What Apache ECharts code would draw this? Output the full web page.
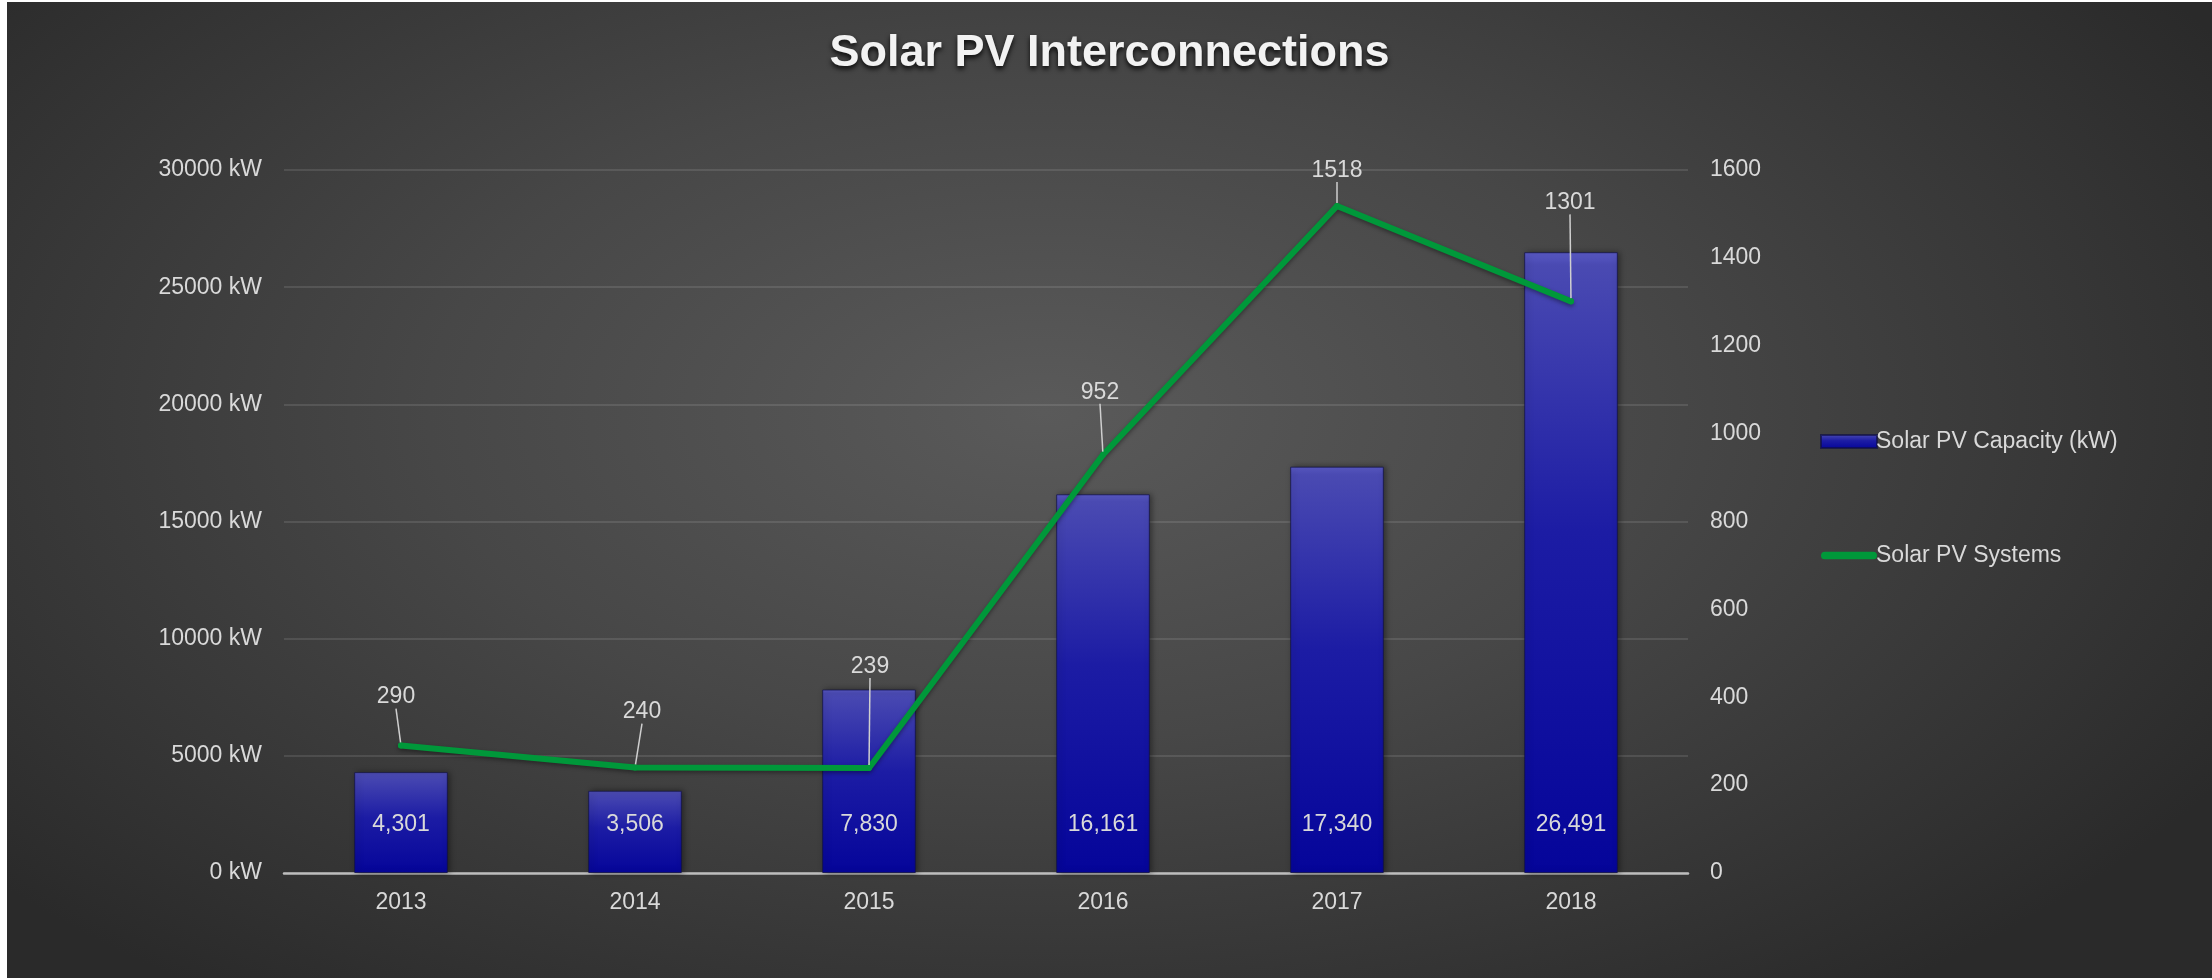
<!DOCTYPE html>
<html>
<head>
<meta charset="utf-8">
<script src="https://cdn.jsdelivr.net/npm/echarts@6/dist/echarts.min.js"></script>
<style>
  html, body { margin: 0; padding: 0; background: #ffffff; }
  #chart {
    position: absolute; left: 7px; top: 2px; width: 2205px; height: 976px;
    background: radial-gradient(ellipse 62% 75% at 47% 42%, #5a5a5a 0%, #474747 45%, #2a2a2a 100%);
  }
</style>
</head>
<body>
<div id="chart"></div>
<script>
// chart data
const years = ['2013', '2014', '2015', '2016', '2017', '2018'];
const capacityKW = [4301, 3506, 7830, 16161, 17340, 26491];
const systems = [290, 240, 239, 952, 1518, 1301];

// where the line labels sit relative to their points (leader lines)
const labelShift = [[-5, -34], [7, -41], [1, -87], [-3, -48], [0, -21], [-1, -84]];

var chartDom = document.getElementById('chart');
var myChart = echarts.init(chartDom);
var option;

const textColor = '#d9d9d9';
const font = 'Liberation Sans, Arial, sans-serif';

option = {
  backgroundColor: 'transparent',
  title: {
    text: 'Solar PV Interconnections',
    left: 'center',
    top: 24,
    textStyle: {
      fontFamily: font,
      fontSize: 45,
      fontWeight: 'bold',
      color: '#f2f2f2',
      textShadowColor: 'rgba(0,0,0,0.85)',
      textShadowBlur: 5,
      textShadowOffsetY: 3
    }
  },
  legend: {
    orient: 'vertical',
    left: 1808,
    top: 423,
    itemGap: 91,
    itemWidth: 56,
    itemHeight: 13,
    textStyle: {
      fontFamily: font,
      fontSize: 23,
      color: textColor,
      padding: [0, 0, 0, -6]
    },
    data: [
      { name: 'Solar PV Capacity (kW)', icon: 'rect' },
      {
        name: 'Solar PV Systems',
        // thick rounded line; the bare moves keep the full icon box
        icon: 'path://M0,0 M0,13 M4,2.5 L54,2.5 A4,4 0 0 1 54,10.5 L4,10.5 A4,4 0 0 1 4,2.5 Z M58,0'
      }
    ]
  },
  grid: {
    left: 277,
    right: 524,
    top: 168,
    bottom: 105,
    containLabel: false
  },
  xAxis: {
    type: 'category',
    data: years,
    axisTick: { show: false },
    axisLine: { lineStyle: { color: '#bdbdbd', width: 2.5 } },
    axisLabel: {
      color: textColor,
      fontFamily: font,
      fontSize: 23,
      margin: 18
    }
  },
  yAxis: [
    {
      type: 'value',
      min: 0,
      max: 30000,
      interval: 5000,
      axisLine: { show: false },
      axisTick: { show: false },
      axisLabel: {
        color: textColor,
        fontFamily: font,
        fontSize: 23,
        margin: 22,
        formatter: function (v) { return v + ' kW'; }
      },
      splitLine: { lineStyle: { color: 'rgba(255,255,255,0.14)', width: 1.5 } }
    },
    {
      type: 'value',
      min: 0,
      max: 1600,
      interval: 200,
      axisLine: { show: false },
      axisTick: { show: false },
      axisLabel: {
        color: textColor,
        fontFamily: font,
        fontSize: 23,
        margin: 22,
        formatter: function (v) { return String(v); }
      },
      splitLine: { show: false }
    }
  ],
  series: [
    {
      name: 'Solar PV Capacity (kW)',
      type: 'bar',
      data: capacityKW,
      barWidth: '40%',
      itemStyle: {
        color: {
          type: 'linear', x: 0, y: 0, x2: 0, y2: 1,
          colorStops: [
            { offset: 0, color: '#5a5ac6' },
            { offset: 0.02, color: '#4a4ab2' },
            { offset: 0.45, color: '#1c1ca4' },
            { offset: 1, color: '#05059a' }
          ]
        },
        borderColor: 'rgba(15,15,70,0.7)',
        borderWidth: 1,
        shadowColor: 'rgba(0,0,0,0.45)',
        shadowBlur: 6,
        shadowOffsetX: 2
      },
      label: {
        show: true,
        position: 'insideBottom',
        distance: 37,
        color: textColor,
        fontFamily: font,
        fontSize: 23,
        formatter: function (params) {
          return params.value.toLocaleString('en-US');
        }
      }
    },
    {
      name: 'Solar PV Systems',
      type: 'line',
      yAxisIndex: 1,
      data: systems,
      symbol: 'circle',
      symbolSize: 6,
      z: 5,
      itemStyle: { color: '#00983a' },
      lineStyle: {
        color: '#00983a',
        width: 6,
        cap: 'round',
        join: 'round',
        shadowColor: 'rgba(0,0,0,0.4)',
        shadowBlur: 4,
        shadowOffsetY: 2
      },
      label: {
        show: true,
        position: 'top',
        distance: 0,
        color: textColor,
        fontFamily: font,
        fontSize: 23
      },
      labelLine: {
        show: true,
        lineStyle: { color: '#cfcfcf', width: 1.5 }
      },
      labelLayout: function (params) {
        const s = labelShift[params.dataIndex];
        return { dx: s[0], dy: s[1] };
      }
    }
  ]
};

myChart.setOption(option);
</script>
</body>
</html>
